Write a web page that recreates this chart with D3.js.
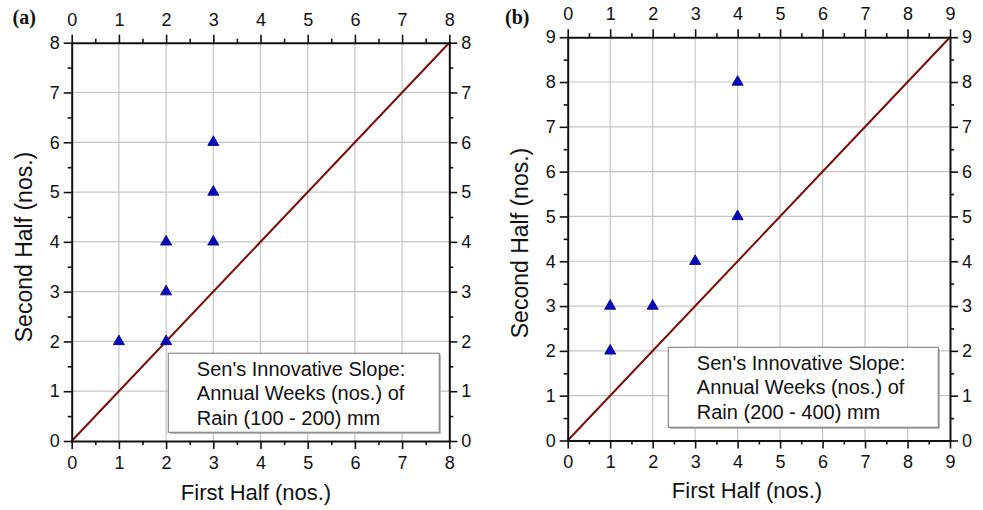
<!DOCTYPE html>
<html>
<head>
<meta charset="utf-8">
<script src="https://cdn.jsdelivr.net/npm/d3@7"></script>
<style>
  body { margin: 0; background: #fff; }
  svg { display: block; }
  text { font-family: "Liberation Sans", Arial, sans-serif; fill: #111; }
</style>
</head>
<body>
<svg id="chart" width="983" height="510"></svg>
<script>
// Panel (a): annual weeks with 100-200 mm rain, first half vs second half
const firstHalfA  = [1, 2, 2, 2, 3, 3, 3];
const secondHalfA = [2, 2, 3, 4, 4, 5, 6];
const ticksA      = [0, 1, 2, 3, 4, 5, 6, 7, 8];
const legendA     = ["Sen's Innovative Slope:", "Annual Weeks (nos.) of", "Rain (100 - 200) mm"];

// Panel (b): annual weeks with 200-400 mm rain
const firstHalfB  = [1, 1, 2, 3, 4, 4];
const secondHalfB = [2, 3, 3, 4, 5, 8];
const ticksB      = [0, 1, 2, 3, 4, 5, 6, 7, 8, 9];
const legendB     = ["Sen's Innovative Slope:", "Annual Weeks (nos.) of", "Rain (200 - 400) mm"];

const xTitle = "First Half (nos.)";
const yTitle = "Second Half (nos.)";

const svg = d3.select("#chart");

const panels = [
  {
    tag: "(a)", xs: firstHalfA, ys: secondHalfA, ticks: ticksA, legend: legendA,
    left: 71.7, right: 449.3, top: 42.7, bottom: 441,
    tagX: 12.5, tagY: 24,
    box: { x: 168.3, y: 353.3, w: 271, h: 79 },
    xTitleX: 256, xTitleY: 500, yTitleX: 32, yTitleY: 247
  },
  {
    tag: "(b)", xs: firstHalfB, ys: secondHalfB, ticks: ticksB, legend: legendB,
    left: 567.7, right: 950, top: 37.2, bottom: 440.5,
    tagX: 505, tagY: 24,
    box: { x: 668.3, y: 347.3, w: 270, h: 80 },
    xTitleX: 747, xTitleY: 498, yTitleX: 528, yTitleY: 243
  }
];

function styleAxis(sel, fontSize) {
  sel.select(".domain").attr("stroke", "#111").attr("stroke-width", 2).attr("stroke-linecap", "square");
  sel.selectAll(".tick line").attr("stroke", "#111").attr("stroke-width", 1.6);
  sel.selectAll(".tick text").attr("font-size", fontSize)
     .attr("font-family", '"Liberation Sans", Arial, sans-serif').attr("fill", "#111");
}

function drawPanel(p) {
  const maxV = p.ticks[p.ticks.length - 1];
  const x = d3.scaleLinear().domain([0, maxV]).range([p.left, p.right]);
  const y = d3.scaleLinear().domain([0, maxV]).range([p.bottom, p.top]);
  const minor = d3.range(0.5, maxV, 1);
  const g = svg.append("g");

  // grid
  const grid = g.append("g").attr("stroke", "#c4c4c4").attr("stroke-width", 1.2);
  grid.selectAll("line.v").data(p.ticks.slice(1, -1)).join("line")
    .attr("x1", d => x(d)).attr("x2", d => x(d))
    .attr("y1", p.top).attr("y2", p.bottom);
  grid.selectAll("line.h").data(p.ticks.slice(1, -1)).join("line")
    .attr("y1", d => y(d)).attr("y2", d => y(d))
    .attr("x1", p.left).attr("x2", p.right);

  // legend box with text
  const b = p.box;
  g.append("rect").attr("x", b.x + 1.5).attr("y", b.y + 1.5).attr("width", b.w).attr("height", b.h)
    .attr("fill", "#a8a8a8");
  g.append("rect").attr("x", b.x).attr("y", b.y).attr("width", b.w).attr("height", b.h)
    .attr("fill", "#fff").attr("stroke", "#8a8a8a").attr("stroke-width", 1.2);
  g.append("g").selectAll("text").data(p.legend).join("text")
    .attr("x", b.x + 28.5).attr("y", (d, i) => b.y + 22.6 + i * 24.3)
    .attr("font-size", 20).text(d => d);

  // 1:1 line
  g.append("line")
    .attr("x1", x(0)).attr("y1", y(0)).attr("x2", x(maxV)).attr("y2", y(maxV))
    .attr("stroke", "#7a0c0c").attr("stroke-width", 2);

  // data markers
  g.append("g").selectAll("path").data(p.xs.map((v, i) => [v, p.ys[i]])).join("path")
    .attr("transform", d => `translate(${x(d[0])},${y(d[1])})`)
    .attr("d", d3.symbol(d3.symbolTriangle, 54))
    .attr("fill", "#0808bc").attr("stroke", "#00007a").attr("stroke-width", 0.8);

  // axes on all four sides: major ticks labelled, minor ticks unlabelled
  const sides = [
    { make: () => d3.axisBottom(x), tr: `translate(0,${p.bottom})`, pad: 7 },
    { make: () => d3.axisTop(x),    tr: `translate(0,${p.top})`,    pad: 9 },
    { make: () => d3.axisLeft(y),   tr: `translate(${p.left},0)`,   pad: 4 },
    { make: () => d3.axisRight(y),  tr: `translate(${p.right},0)`,  pad: 4 }
  ];
  sides.forEach(s => {
    const ax = g.append("g").attr("transform", s.tr)
      .call(s.make().tickValues(p.ticks).tickSizeInner(8).tickSizeOuter(0)
                    .tickPadding(s.pad).tickFormat(d3.format("d")));
    styleAxis(ax, 18);
  });
  sides.forEach(s => {
    const ax = g.append("g").attr("transform", s.tr)
      .call(s.make().tickValues(minor).tickSizeInner(4).tickSizeOuter(0).tickFormat(""));
    ax.select(".domain").remove();
    ax.selectAll(".tick line").attr("stroke", "#111").attr("stroke-width", 1.6);
  });

  // axis titles
  g.append("text").attr("x", p.xTitleX).attr("y", p.xTitleY)
    .attr("text-anchor", "middle").attr("font-size", 22).text(xTitle);
  g.append("text")
    .attr("transform", `translate(${p.yTitleX},${p.yTitleY}) rotate(-90)`)
    .attr("text-anchor", "middle").attr("font-size", 23).text(yTitle);

  // panel tag
  g.append("text").attr("x", p.tagX).attr("y", p.tagY)
    .style("font-family", '"Liberation Serif", "Times New Roman", serif')
    .attr("font-weight", "bold").attr("font-size", 20).text(p.tag);
}

panels.forEach(drawPanel);
</script>
</body>
</html>
